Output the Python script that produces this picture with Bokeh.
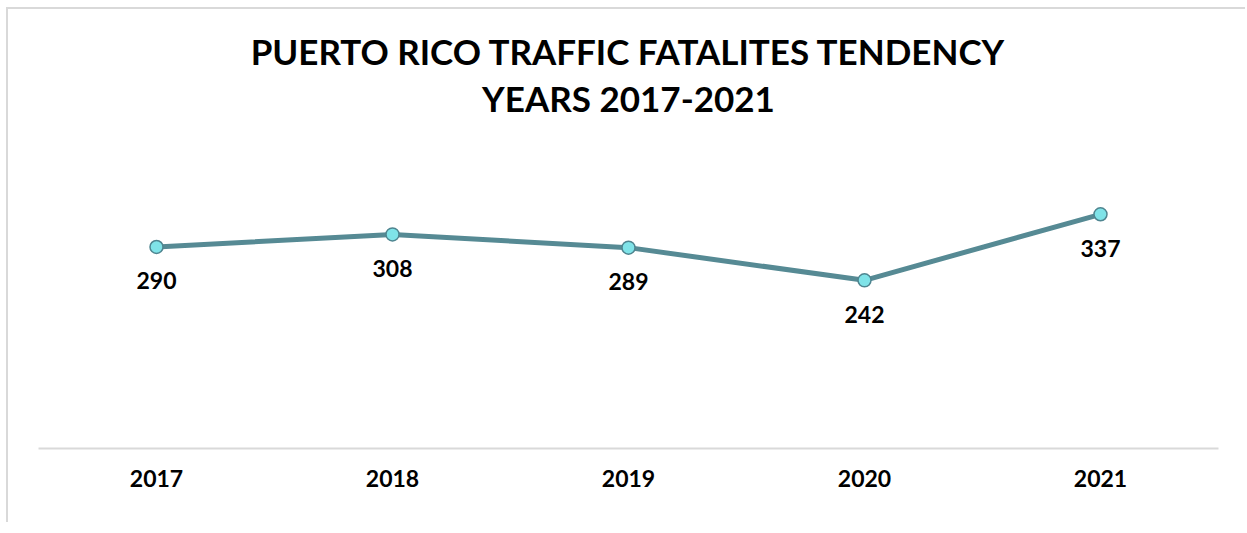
from bokeh.plotting import figure
from bokeh.models import ColumnDataSource, Range1d, Title
from bokeh.embed import file_html
from bokeh.resources import INLINE
from bokeh.core.properties import value

years = ["2017", "2018", "2019", "2020", "2021"]
fatalities = [290, 308, 289, 242, 337]
labels = [str(v) for v in fatalities]
title_lines = ["PUERTO RICO TRAFFIC FATALITES TENDENCY", "YEARS 2017-2021"]

src = ColumnDataSource(dict(x=years, y=fatalities, lab=labels))

FONT = "Lato"

p = figure(width=1239, height=515, x_range=years, y_range=Range1d(0, 400),
           output_backend="svg", toolbar_location=None,
           min_border_left=30, min_border_right=29, min_border_top=161, min_border_bottom=76)
p.styles = {"border-left": "2px solid #d9d9d9", "border-top": "2px solid #d9d9d9",
            "margin-left": "6px", "margin-top": "7px"}

t2 = Title(text=title_lines[1], align="center",
           text_font=FONT, text_font_size="35px", text_font_style="bold",
           text_color="#000000", standoff=103)
t1 = Title(text=title_lines[0], align="center",
           text_font=FONT, text_font_size="35px", text_font_style="bold",
           text_color="#000000", standoff=-96)
p.add_layout(t2, "above")
p.add_layout(t1, "above")

p.outline_line_color = None
p.xgrid.visible = False
p.ygrid.visible = False
p.yaxis.visible = False

ax = p.xaxis[0]
ax.axis_line_color = "#d9d9d9"
ax.axis_line_width = 2
ax.major_tick_line_color = None
ax.minor_tick_line_color = None
ax.major_label_text_font = FONT
ax.major_label_text_font_size = "23px"
ax.major_label_text_font_style = "bold"
ax.major_label_text_color = "#000000"
ax.major_label_standoff = 15

p.line("x", "y", source=src, line_color="#568a94", line_width=5)
p.scatter("x", "y", source=src, size=13, fill_color="#7fe3e8", line_color="#4f8590", line_width=1.5)
p.text("x", "y", text="lab", source=src, y_offset=34, text_align="center", text_baseline="middle",
       text_font=value(FONT), text_font_size="23px", text_font_style="bold", text_color="#000000")

open("out.html", "w").write(file_html(p, INLINE))
